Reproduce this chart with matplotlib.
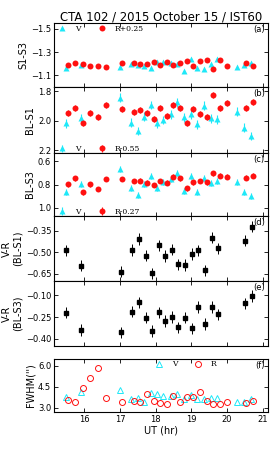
import matplotlib
matplotlib.use("Agg")
import matplotlib.pyplot as plt
import numpy as np

plt.rcParams['font.family'] = ['DejaVu Sans']
plt.rcParams['xtick.direction'] = 'in'
plt.rcParams['ytick.direction'] = 'in'
plt.rcParams['xtick.top'] = True
plt.rcParams['ytick.right'] = True
plt.rcParams['xtick.major.size'] = 3
plt.rcParams['ytick.major.size'] = 3
plt.rcParams['axes.linewidth'] = 0.8

# epochs (UT hr)
t_v = [15.48, 15.90, 16.99, 17.30, 17.50, 17.68, 17.86, 18.05, 18.22, 18.42,
       18.59, 18.79, 18.98, 19.16, 19.35, 19.54, 19.72, 20.28, 20.47, 20.66]
t_r = [15.53, 15.74, 15.95, 16.17, 16.38, 16.60, 17.05, 17.38, 17.56, 17.75,
       17.94, 18.12, 18.31, 18.49, 18.68, 18.87, 19.05, 19.24, 19.43, 19.61,
       19.80, 19.99, 20.54, 20.73]

# (a) S1-S3
s13_v = [-1.166, -1.189, -1.175, -1.195, -1.189, -1.178, -1.166, -1.212, -1.212, -1.203,
         -1.195, -1.140, -1.238, -1.166, -1.152, -1.195, -1.238, -1.175, -1.192, -1.209]
s13_r = [-1.186, -1.203, -1.195, -1.183, -1.180, -1.175, -1.203, -1.209, -1.200, -1.200,
         -1.218, -1.186, -1.218, -1.192, -1.203, -1.223, -1.180, -1.223, -1.229, -1.155,
         -1.229, -1.178, -1.203, -1.183]

# (b) BL-S1
bls1_v = [2.018, 1.983, 1.843, 2.013, 2.070, 1.972, 1.893, 2.018, 1.995, 1.956,
          1.874, 1.977, 1.956, 2.024, 1.897, 1.983, 1.990, 1.938, 2.047, 2.104]
bls1_r = [1.949, 1.911, 2.018, 1.945, 1.977, 1.893, 1.920, 1.943, 1.927, 1.945,
          1.988, 1.915, 1.968, 1.893, 1.911, 2.018, 1.922, 1.956, 1.972, 1.825,
          1.915, 1.881, 1.911, 1.874]
bls1_v_err = [0.03] * 20
bls1_r_err = [0.02] * 24

# (c) BL-S3
bls3_v = [0.862, 0.798, 0.670, 0.833, 0.890, 0.798, 0.727, 0.827, 0.776, 0.753,
          0.699, 0.856, 0.724, 0.862, 0.747, 0.784, 0.770, 0.776, 0.862, 0.898]
bls3_r = [0.798, 0.747, 0.867, 0.798, 0.838, 0.753, 0.753, 0.770, 0.767, 0.784,
          0.804, 0.770, 0.784, 0.733, 0.747, 0.833, 0.781, 0.770, 0.781, 0.704,
          0.724, 0.733, 0.741, 0.724]
bls3_v_err = [0.025] * 20
bls3_r_err = [0.02] * 24

# (d), (e) V-R colour index
t_c = [15.50, 15.92, 17.02, 17.34, 17.53, 17.72, 17.90, 18.08, 18.27, 18.45,
       18.64, 18.83, 19.02, 19.20, 19.39, 19.58, 19.76, 20.50, 20.70]
vr1 = [-0.485, -0.593, -0.635, -0.483, -0.406, -0.523, -0.646, -0.450, -0.525, -0.480,
       -0.583, -0.588, -0.511, -0.485, -0.625, -0.397, -0.471, -0.418, -0.320]
vr3 = [-0.219, -0.339, -0.355, -0.212, -0.148, -0.254, -0.346, -0.217, -0.277, -0.251,
       -0.321, -0.254, -0.328, -0.180, -0.298, -0.180, -0.231, -0.155, -0.102]
vr_err = [0.04] * 19

# (f) FWHM
fw_v = [3.80, 4.16, 4.28, 3.63, 3.68, 3.44, 4.04, 3.97, 3.85, 3.85,
        3.97, 3.61, 3.92, 3.63, 3.61, 3.68, 3.68, 3.39, 3.39, 3.63]
fw_r = [3.56, 3.42, 4.42, 5.12, 5.83, 3.73, 3.39, 3.51, 3.39, 4.01,
        3.51, 3.32, 3.27, 3.87, 3.42, 3.75, 3.75, 4.11, 3.51, 3.25,
        3.25, 3.39, 3.32, 3.49]

W, H = 274, 457
fig = plt.figure(figsize=(W / 100, H / 100), dpi=100)

def box(top, bottom):
    return [54 / W, 1 - bottom / H, 214 / W, (bottom - top) / H]

ax_a = fig.add_axes(box(23, 87))
ax_b = fig.add_axes(box(87, 153))
ax_c = fig.add_axes(box(153, 216))
ax_d = fig.add_axes(box(216, 281))
ax_e = fig.add_axes(box(281, 346))
ax_f = fig.add_axes(box(359, 412))
axes = [ax_a, ax_b, ax_c, ax_d, ax_e, ax_f]

cyan = '#1ee8f8'
red = '#ff1010'
leg_font = {'family': 'DejaVu Serif', 'size': 5.5}
leg_kw = dict(ncol=2, frameon=False, prop=leg_font, handletextpad=1.2,
              columnspacing=2.2, handlelength=1.0, borderaxespad=0.2)

for ax in axes:
    ax.set_xlim(15.15, 21.15)
    ax.set_xticks([16, 17, 18, 19, 20, 21])
    ax.tick_params(labelsize=6, pad=2, width=0.6)
    if ax is not ax_f:
        ax.set_xticklabels([])

# (a)
ax_a.plot(t_v, s13_v, '^', color=cyan, ms=4.3, mec='none', label='V')
ax_a.plot(t_r, s13_r, 'o', color=red, ms=4.3, mec='none', label='R+0.25')
ax_a.set_ylim(-1.0, -1.55)
ax_a.set_yticks([-1.5, -1.3, -1.1])
ax_a.set_ylabel('S1-S3', fontsize=7, labelpad=2)
ax_a.legend(loc='upper left', bbox_to_anchor=(0.0, 1.04), **leg_kw)
ax_a.set_title('CTA 102 / 2015 October 15 / IST60', fontsize=8.4, pad=2)

# (b)
ax_b.errorbar(t_v, bls1_v, yerr=bls1_v_err, fmt='^', color=cyan, ms=4.3, mec='none',
              elinewidth=0.8, capsize=0, label='V')
ax_b.errorbar(t_r, bls1_r, yerr=bls1_r_err, fmt='o', color=red, ms=4.3, mec='none',
              elinewidth=0.8, capsize=0, label='R-0.55')
ax_b.set_ylim(2.22, 1.77)
ax_b.set_yticks([1.8, 2.0, 2.2])
ax_b.set_ylabel('BL-S1', fontsize=7, labelpad=2)
ax_b.legend(loc='lower left', bbox_to_anchor=(0.0, -0.07), **leg_kw)

# (c)
ax_c.errorbar(t_v, bls3_v, yerr=bls3_v_err, fmt='^', color=cyan, ms=4.3, mec='none',
              elinewidth=0.8, capsize=0, label='V')
ax_c.errorbar(t_r, bls3_r, yerr=bls3_r_err, fmt='o', color=red, ms=4.3, mec='none',
              elinewidth=0.8, capsize=0, label='R-0.27')
ax_c.set_ylim(1.07, 0.53)
ax_c.set_yticks([0.6, 0.8, 1.0])
ax_c.set_ylabel('BL-S3', fontsize=7, labelpad=2)
ax_c.legend(loc='lower left', bbox_to_anchor=(0.0, -0.07), **leg_kw)

# (d)
ax_d.errorbar(t_c, vr1, yerr=vr_err, fmt='s', color='black', ms=3.2,
              elinewidth=0.7, capsize=0)
ax_d.set_ylim(-0.70, -0.245)
ax_d.set_yticks([-0.35, -0.50, -0.65])
ax_d.set_ylabel('V-R\n(BL-S1)', fontsize=7, labelpad=2, linespacing=1.1)

# (e)
ax_e.errorbar(t_c, vr3, yerr=vr_err, fmt='s', color='black', ms=3.2,
              elinewidth=0.7, capsize=0)
ax_e.set_ylim(-0.45, 0.0)
ax_e.set_yticks([-0.10, -0.25, -0.40])
ax_e.set_ylabel('V-R\n(BL-S3)', fontsize=7, labelpad=2, linespacing=1.1)

# (f)
ax_f.plot(t_v, fw_v, '^', mfc='none', mec=cyan, ms=4.3, mew=0.7, label='V')
ax_f.plot(t_r, fw_r, 'o', mfc='none', mec=red, ms=4.3, mew=0.7, label='R')
ax_f.set_ylim(2.7, 6.5)
ax_f.set_yticks([3.0, 4.5, 6.0])
ax_f.set_ylabel("FWHM('')", fontsize=7, labelpad=2)
ax_f.set_xlabel('UT (hr)', fontsize=7, labelpad=1)
ax_f.legend(loc='upper left', bbox_to_anchor=(0.45, 1.06), **leg_kw)

for ax, lab in zip(axes, ['(a)', '(b)', '(c)', '(d)', '(e)', '(f)']):
    ax.text(0.985, 0.97, lab, transform=ax.transAxes, ha='right', va='top', fontsize=6)

fig.savefig('out.png', dpi=100)
